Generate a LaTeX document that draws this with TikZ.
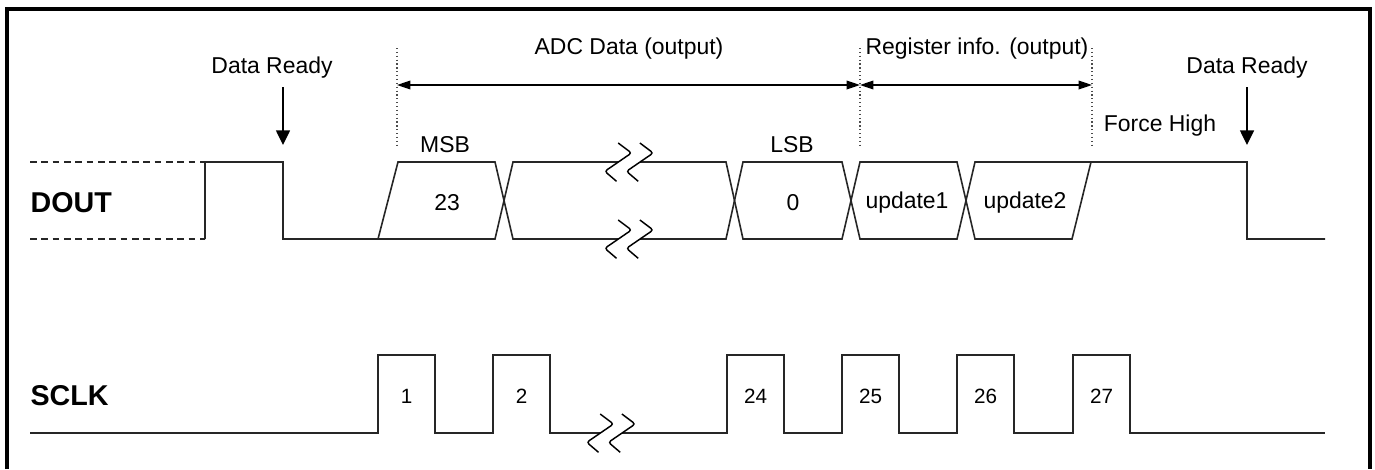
\documentclass[tikz,border=0pt]{standalone}
\usepackage{fontspec}
\setmainfont{Liberation Sans}
\usetikzlibrary{arrows.meta}

\tikzset{every picture/.style={line width=0.9pt}}
\tikzset{
  sig/.style={line width=1.2pt, black!85},
  lbl/.style={font=\fontsize{17.2}{20}\selectfont, inner sep=0pt},
  numlbl/.style={font=\fontsize{15.5}{18}\selectfont, inner sep=0pt},
  namelbl/.style={font=\fontsize{21.5}{24}\selectfont\bfseries, inner sep=0pt, anchor=west},
  guide/.style={dotted, line width=0.9pt, black!70},
  span/.style={line width=1pt, {Triangle[length=10pt,width=6.5pt]}-{Triangle[length=10pt,width=6.5pt]}},
  ready/.style={line width=1.1pt, -{Triangle[length=11pt,width=10.5pt]}},
  zig/.style={line width=1.1pt, rounded corners=2pt}
}

\begin{document}
\begin{tikzpicture}[x=0.75pt,y=0.75pt,yscale=-1,xscale=1]
	\useasboundingbox (0,0) rectangle (1375,469);

	%Frame
	\draw [line width=2.3pt] (7,469) -- (7,9) -- (1370,9) -- (1370,469) ;

	% Text Node
	\node [namelbl] (dout) at (30,203) {DOUT};
	% Text Node
	\node [namelbl] (sclk) at (30,396) {SCLK};

	%Dotted guides
	\coordinate (adcL) at (397,85);
	\coordinate (adcR) at (860,85);
	\coordinate (regR) at (1092,85);
	\draw [guide] (397,48) -- (397,145) ;
	\draw [guide] (860,48) -- (860,147) ;
	\draw [guide] (1092,48) -- (1092,147) ;
	%Span arrows
	\draw [span] (adcL) -- (adcR) ;
	\draw [span] (adcR) -- (regR) ;

	% Text Node
	\node [lbl] (adc) at (629,49) {ADC Data (output)};
	% Text Node
	\node [lbl] (reg) at (977,49) {Register info. (output)};
	% Text Node
	\node [lbl] (rdyL) at (272,68) {Data Ready};
	% Text Node
	\node [lbl] (rdyR) at (1247,68) {Data Ready};
	% Text Node
	\node [lbl] (force) at (1160,126) {Force High};
	% Text Node
	\node [lbl] (msb) at (445,145) {MSB};
	% Text Node
	\node [lbl] (lsb) at (792,145) {LSB};

	%Data Ready arrows
	\coordinate (rdyLtop) at (283,87);
	\coordinate (rdyLtip) at (283,145);
	\coordinate (rdyRtop) at (1247,87);
	\coordinate (rdyRtip) at (1247,145);
	\draw [ready] (rdyLtop) -- (rdyLtip) ;
	\draw [ready] (rdyRtop) -- (rdyRtip) ;

	%DOUT idle (dashed)
	\draw [sig, dash pattern=on 5pt off 3.5pt] (30,162) -- (205,162) ;
	\draw [sig, dash pattern=on 5pt off 3.5pt] (30,239) -- (205,239) ;
	%DOUT waveform
	\draw [sig] (205,239) -- (205,162) -- (283,162) -- (283,239) -- (378,239) -- (398,162) -- (495,162) -- (513,239) -- (726,239) -- (743,162) -- (842,162) -- (860,239) -- (957,239) -- (975,162) -- (1247,162) -- (1247,239) -- (1325,239) ;
	\draw [sig] (378,239) -- (495,239) -- (513,162) -- (726,162) -- (743,239) -- (842,239) -- (860,162) -- (957,162) -- (975,239) -- (1072,239) -- (1091,162) ;

	% Text Node
	\node [lbl] (b23) at (447,203) {23};
	% Text Node
	\node [lbl] (b0) at (793,203) {0};
	% Text Node
	\node [lbl] (upd1) at (907,203) {update1};
	% Text Node
	\node [lbl] (upd2) at (1025,203) {update2};

	%SCLK waveform
	\draw [sig] (30,433) foreach \s in {378,493,727,842,957,1073} { -- (\s,433) -- (\s,355) -- ({\s+57},355) -- ({\s+57},433) } -- (1325,433) ;
	\foreach \s/\n in {378/1,493/2,727/24,842/25,957/26,1073/27}
		\node [numlbl] (clk\n) at ({\s+28.5},396) {\n};

	%Break marks
	\foreach \bx/\by in {629/162, 629/239, 611/433} {
		\fill [white] ({\bx-10.6},{\by-2}) rectangle ({\bx+11.1},{\by+2});
		\foreach \d in {0,21.7}
			\draw [zig] ({\bx-10.8+\d},{\by-19}) -- ({\bx+2.5+\d},{\by-9}) -- ({\bx-24.2+\d},{\by+9.3}) -- ({\bx-12.5+\d},{\by+19.3});
	}

\end{tikzpicture}
\end{document}
